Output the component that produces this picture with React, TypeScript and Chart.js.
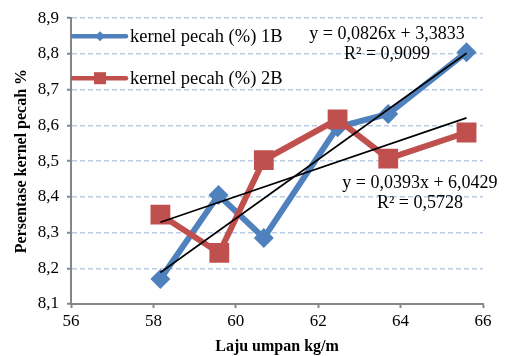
import React, { useEffect, useRef } from 'react';
import { Chart, registerables } from 'chart.js';

Chart.register(...registerables);

const SERIES_NAMES = ['kernel pecah (%) 1B', 'kernel pecah (%) 2B'];
const FEED_1B = [58.17, 59.58, 60.68, 62.47, 63.7, 65.6];
const BROKEN_1B = [8.17, 8.405, 8.285, 8.595, 8.632, 8.805];
const FEED_2B = [58.17, 59.6, 60.68, 62.47, 63.7, 65.6];
const BROKEN_2B = [8.35, 8.243, 8.503, 8.617, 8.507, 8.58];
const TREND_1B = [0.0826, 3.3833];
const TREND_2B = [0.0393, 6.0429];
const EQ_1B = ['y = 0,0826x + 3,3833', 'R² = 0,9099'];
const EQ_2B = ['y = 0,0393x + 6,0429', 'R² = 0,5728'];
const EQ_1B_POS = [63.67, 8.856, 8.8];
const EQ_2B_POS = [64.47, 8.439, 8.383];
const X_RANGE = [56, 66, 2];
const Y_RANGE = [8.1, 8.9, 0.1];
const X_TITLE = 'Laju umpan kg/m';
const Y_TITLE = 'Persentase kernel pecah %';

const BLUE = '#4F81BD';
const RED = '#C0504D';
const FONT = "'Liberation Serif', 'Times New Roman', serif";

function trendPoints(xs: number[], coef: number[]) {
  const lo = Math.min(...xs);
  const hi = Math.max(...xs);
  return [
    { x: lo, y: coef[0] * lo + coef[1] },
    { x: hi, y: coef[0] * hi + coef[1] },
  ];
}

const overlayPlugin = {
  id: 'overlay',
  afterDatasetsDraw(chart: any) {
    const { ctx, chartArea, scales } = chart;
    const xs = scales.x;
    const ys = scales.y;
    ctx.save();
    ctx.fillStyle = '#000';
    ctx.font = `18px ${FONT}`;
    ctx.textAlign = 'center';
    ctx.textBaseline = 'middle';
    ctx.fillText(EQ_1B[0], xs.getPixelForValue(EQ_1B_POS[0]), ys.getPixelForValue(EQ_1B_POS[1]));
    ctx.fillText(EQ_1B[1], xs.getPixelForValue(EQ_1B_POS[0]), ys.getPixelForValue(EQ_1B_POS[2]));
    ctx.fillText(EQ_2B[0], xs.getPixelForValue(EQ_2B_POS[0]), ys.getPixelForValue(EQ_2B_POS[1]));
    ctx.fillText(EQ_2B[1], xs.getPixelForValue(EQ_2B_POS[0]), ys.getPixelForValue(EQ_2B_POS[2]));

    const left = chartArea.left;
    const rows = [chartArea.top + 18, chartArea.top + 60];
    const colors = [BLUE, RED];
    rows.forEach((y, i) => {
      ctx.strokeStyle = colors[i];
      ctx.fillStyle = colors[i];
      ctx.lineWidth = 4.5;
      ctx.lineCap = 'round';
      ctx.beginPath();
      ctx.moveTo(left + 2, y);
      ctx.lineTo(left + 55, y);
      ctx.stroke();
      const cx = left + 29;
      ctx.beginPath();
      if (i === 0) {
        const r = 5;
        ctx.moveTo(cx, y - r);
        ctx.lineTo(cx + r, y);
        ctx.lineTo(cx, y + r);
        ctx.lineTo(cx - r, y);
        ctx.closePath();
        ctx.fill();
      } else {
        ctx.fillRect(cx - 6, y - 6, 12, 12);
      }
      ctx.fillStyle = '#000';
      ctx.textAlign = 'left';
      ctx.font = `18.5px ${FONT}`;
      ctx.fillText(SERIES_NAMES[i], left + 59, y + 1);
    });
    ctx.restore();
  },
};

export default function App() {
  const ref = useRef<HTMLCanvasElement>(null);
  useEffect(() => {
    document.body.style.margin = '0';
    const canvas = ref.current!;
    const chart = new Chart(canvas, {
      type: 'scatter',
      data: {
        datasets: [
          {
            label: 'trend 1B',
            data: trendPoints(FEED_1B, TREND_1B),
            showLine: true,
            borderColor: '#000',
            borderWidth: 1.6,
            pointRadius: 0,
            order: 0,
          },
          {
            label: 'trend 2B',
            data: trendPoints(FEED_2B, TREND_2B),
            showLine: true,
            borderColor: '#000',
            borderWidth: 1.6,
            pointRadius: 0,
            order: 0,
          },
          {
            label: SERIES_NAMES[1],
            data: FEED_2B.map((x, i) => ({ x, y: BROKEN_2B[i] })),
            showLine: true,
            borderColor: RED,
            backgroundColor: RED,
            borderWidth: 6,
            pointStyle: 'rect',
            pointRadius: 14,
            pointBorderWidth: 0,
            order: 1,
          },
          {
            label: SERIES_NAMES[0],
            data: FEED_1B.map((x, i) => ({ x, y: BROKEN_1B[i] })),
            showLine: true,
            borderColor: BLUE,
            backgroundColor: BLUE,
            borderWidth: 6,
            pointStyle: 'rectRot',
            pointRadius: 10,
            pointBorderWidth: 0,
            order: 2,
          },
        ],
      },
      options: {
        responsive: false,
        animation: false,
        layout: { padding: { left: 0, top: 16, right: 24, bottom: 0 }, autoPadding: false },
        plugins: { legend: { display: false }, tooltip: { enabled: false } },
        scales: {
          x: {
            type: 'linear',
            min: X_RANGE[0],
            max: X_RANGE[1],
            ticks: {
              stepSize: X_RANGE[2],
              color: '#000',
              font: { family: FONT, size: 17 },
              padding: 3,
              maxRotation: 0,
            },
            grid: {
              drawOnChartArea: false,
              drawTicks: true,
              tickLength: 4,
              tickColor: '#868686',
              tickWidth: 2,
            },
            border: { color: '#868686', width: 2 },
            title: {
              display: true,
              text: X_TITLE,
              color: '#000',
              font: { family: FONT, size: 16, weight: 'bold' },
              padding: { top: 0, bottom: 0 },
            },
            afterFit: (s: any) => {
              s.height = 52;
            },
          },
          y: {
            type: 'linear',
            min: Y_RANGE[0],
            max: Y_RANGE[1],
            ticks: {
              stepSize: Y_RANGE[2],
              color: '#000',
              font: { family: FONT, size: 17 },
              padding: 8,
              callback: (v: any) => Number(v).toFixed(1).replace('.', ','),
            },
            grid: {
              color: (c: any) => (c.tick && Math.abs(c.tick.value - Y_RANGE[0]) < 1e-6 ? 'rgba(0,0,0,0)' : '#B9CDE5'),
              lineWidth: 1.5,
              drawTicks: true,
              tickLength: 4,
              tickColor: '#868686',
              tickWidth: 2,
            },
            border: { color: '#868686', width: 2, dash: [5, 3] },
            title: {
              display: true,
              text: Y_TITLE,
              color: '#000',
              font: { family: FONT, size: 16, weight: 'bold' },
              padding: { top: 12, bottom: 0 },
            },
            afterFit: (s: any) => {
              s.width = 71;
            },
          },
        },
      },
      plugins: [overlayPlugin],
    } as any);
    return () => chart.destroy();
  }, []);
  return (
    <div style={{ position: 'fixed', left: 0, top: 0, width: 507, height: 356, background: '#fff' }}>
      <canvas ref={ref} width={507} height={356} style={{ width: 507, height: 356 }} />
    </div>
  );
}
